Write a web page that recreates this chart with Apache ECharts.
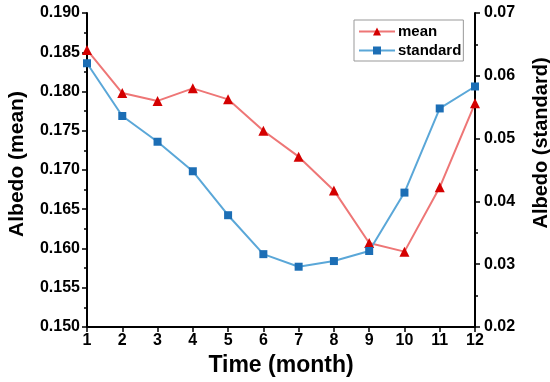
<!DOCTYPE html>
<html>
<head>
<meta charset="utf-8">
<script src="https://cdn.jsdelivr.net/npm/echarts@6/dist/echarts.min.js"></script>
<style>html,body{margin:0;padding:0;background:#fff;}#c{width:550px;height:382px;}</style>
</head>
<body>
<div id="c"></div>
<script>
var months = ['1','2','3','4','5','6','7','8','9','10','11','12'];
var meanValues = [0.1853, 0.1798, 0.1788, 0.1804, 0.1790, 0.1750, 0.1717, 0.1674, 0.1607, 0.1596, 0.1678, 0.1785];
var standardValues = [0.0620, 0.0536, 0.0495, 0.0448, 0.0378, 0.0316, 0.0296, 0.0305, 0.0321, 0.0414, 0.0548, 0.0583];

var FONT = 'Arial, "Liberation Sans", sans-serif';
var chart = echarts.init(document.getElementById('c'), null, {renderer: 'canvas'});
var axisLine = {show: true, lineStyle: {color: '#000', width: 2}};
chart.setOption({
  animation: false,
  backgroundColor: '#fff',
  grid: {left: 87, right: 75, top: 13, bottom: 55, containLabel: false, outerBoundsMode: 'none'},
  legend: {
    top: 20, left: 354,
    orient: 'vertical',
    itemWidth: 36, itemHeight: 10, itemGap: 4,
    padding: [4, 2, 3, 4],
    borderColor: '#999', borderWidth: 1,
    textStyle: {fontFamily: FONT, fontWeight: 'bold', fontSize: 15, color: '#000', padding: [0, 0, 0, -2]},
    data: ['mean', 'standard']
  },
  xAxis: {
    type: 'category', data: months, boundaryGap: false,
    name: 'Time (month)', nameLocation: 'middle', nameGap: 26,
    nameTextStyle: {fontFamily: FONT, fontWeight: 'bold', fontSize: 23, color: '#000'},
    axisLine: axisLine,
    axisTick: {show: true, length: 5, lineStyle: {color: '#000', width: 1.5}, alignWithLabel: true},
    axisLabel: {fontFamily: FONT, fontWeight: 'bold', fontSize: 16, color: '#000', margin: 6},
    splitLine: {show: false}
  },
  yAxis: [{
    type: 'value', min: 0.15, max: 0.19, interval: 0.005, position: 'left',
    name: 'Albedo (mean)', nameLocation: 'middle', nameGap: 59,
    nameTextStyle: {fontFamily: FONT, fontWeight: 'bold', fontSize: 21, color: '#000', padding: [0, 0, 0, 12]},
    axisLine: axisLine,
    axisTick: {show: true, length: 5, lineStyle: {color: '#000', width: 1.5}},
    minorTick: {show: true, splitNumber: 2, length: 3, lineStyle: {color: '#000', width: 1.5}},
    axisLabel: {fontFamily: FONT, fontWeight: 'bold', fontSize: 16, color: '#000', margin: 7,
      formatter: function (v) { return v.toFixed(3); }},
    splitLine: {show: false}
  }, {
    type: 'value', min: 0.02, max: 0.07, interval: 0.01, position: 'right',
    name: 'Albedo (standard)', nameLocation: 'middle', nameGap: 56,
    nameTextStyle: {fontFamily: FONT, fontWeight: 'bold', fontSize: 20, color: '#000', padding: [0, 0, 0, 54]},
    axisLine: axisLine,
    axisTick: {show: true, length: 5, lineStyle: {color: '#000', width: 1.5}},
    minorTick: {show: true, splitNumber: 2, length: 3, lineStyle: {color: '#000', width: 1.5}},
    axisLabel: {fontFamily: FONT, fontWeight: 'bold', fontSize: 16, color: '#000', margin: 9,
      formatter: function (v) { return v.toFixed(2); }},
    splitLine: {show: false}
  }],
  series: [{
    name: 'mean', type: 'line', yAxisIndex: 0, data: meanValues,
    symbol: 'triangle', symbolSize: 10,
    lineStyle: {color: '#EE7676', width: 2},
    itemStyle: {color: '#D40000'}
  }, {
    name: 'standard', type: 'line', yAxisIndex: 1, data: standardValues,
    symbol: 'rect', symbolSize: 8,
    lineStyle: {color: '#5AA7D8', width: 2},
    itemStyle: {color: '#1C6EB5'}
  }]
});
</script>
</body>
</html>
